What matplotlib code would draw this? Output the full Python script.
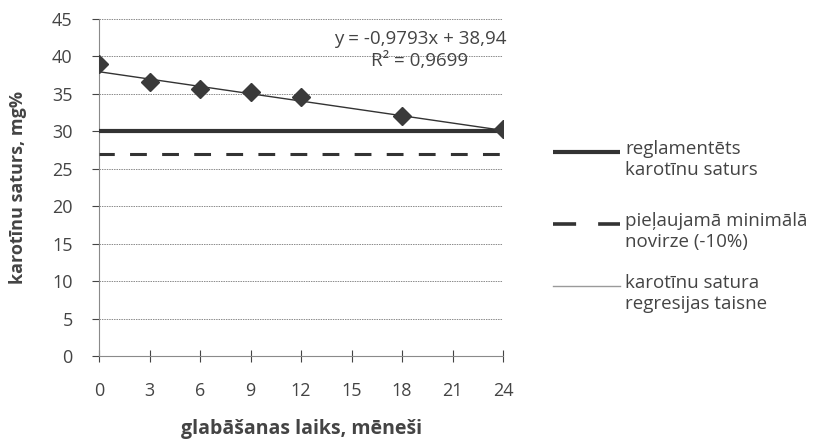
import matplotlib
matplotlib.use("Agg")
import matplotlib.pyplot as plt
from matplotlib.lines import Line2D

plt.rcParams['font.family'] = ['Open Sans', 'DejaVu Sans']

# storage months and measured carotene content, mg%
months = [0, 3, 6, 9, 12, 18, 24]
carotene = [39.0, 36.6, 35.7, 35.3, 34.6, 32.1, 30.3]

norm_level = 30.0        # regulated content
min_level = 27.0         # allowed minimum (-10%)

# trend from the spreadsheet: x is the category number (1 = 0 months, step 3 months)
slope = -0.9793
intercept = 38.94
r2 = 0.9699

x_ticks = [0, 3, 6, 9, 12, 15, 18, 21, 24]
y_ticks = [0, 5, 10, 15, 20, 25, 30, 35, 40, 45]

legend_labels = [
    "reglamentēts\nkarotīnu saturs",
    "pieļaujamā minimālā\nnovirze (-10%)",
    "karotīnu satura\nregresijas taisne",
]

line_color = '#333333'
grid_color = '#8a8a8a'
text_color = '#444444'

W, H = 838, 445
fig = plt.figure(figsize=(W / 100, H / 100), dpi=100)
fig.patch.set_facecolor('white')
ax = fig.add_axes([99 / W, 1 - 356 / H, (503 - 99) / W, (356 - 19) / H])

# grid
for yv in y_ticks[1:]:
    ax.axhline(yv, color=grid_color, lw=0.7, ls=(0, (1.5, 1)), zorder=1)

# reference levels
ax.plot([x_ticks[0], x_ticks[-1]], [norm_level, norm_level], color=line_color, lw=3.0,
        solid_capstyle='butt', zorder=3)
ax.plot([x_ticks[0], x_ticks[-1]], [min_level, min_level], color=line_color, lw=2.2,
        ls=(0.5, (5.5, 5.0)), zorder=3)

# trend line
trend_x = [x_ticks[0], x_ticks[-1]]
trend_y = [slope * (m / 3 + 1) + intercept for m in trend_x]
ax.plot(trend_x, trend_y, color=line_color, lw=1.0, zorder=4)

# measured points
ax.plot(months, carotene, ls='none', marker='D', ms=9, color='#3a3a3a', zorder=5)

ax.set_xlim(0, 24)
ax.set_ylim(0, 45)
ax.set_xticks(x_ticks)
ax.set_yticks(y_ticks)
ax.tick_params(axis='both', labelsize=13, colors=text_color, length=5, width=0.8)
ax.tick_params(axis='x', pad=14, direction='inout', length=9)
ax.tick_params(axis='y', pad=14)
for side in ['top', 'right']:
    ax.spines[side].set_visible(False)
for side in ['left', 'bottom']:
    ax.spines[side].set_color(grid_color)
    ax.spines[side].set_linewidth(0.8)
    ax.spines[side].set_linestyle((0, (1.5, 1)))

ax.set_xlabel("glabāšanas laiks, mēneši", fontsize=14, fontweight='bold', color=text_color, labelpad=14)
ax.set_ylabel("karotīnu saturs, mg%", fontsize=13, fontweight='bold', color=text_color, labelpad=18)

# regression equation
eq_text = "y = {}x + {}\nR² = {}".format(
    f"{slope:.4f}".replace('.', ','), f"{intercept:.2f}".replace('.', ','), f"{r2:.4f}".replace('.', ','))
fig.text(420 / W, 1 - 50 / H, eq_text, ha='center', va='center', fontsize=13.5,
         color=text_color, linespacing=1.25)

# legend drawn at the right side
styles = [
    dict(color=line_color, lw=3.0, solid_capstyle='butt'),
    dict(color=line_color, lw=2.6, ls=(0, (6.4, 6.1)), dash_capstyle='butt'),
    dict(color='#9a9a9a', lw=1.0),
]
rows = [152, 224, 286]
for label, style, yp in zip(legend_labels, styles, rows):
    fig.add_artist(Line2D([553 / W, 620 / W], [1 - yp / H, 1 - yp / H], transform=fig.transFigure, **style))
    fig.text(625 / W, 1 - (yp - 12) / H, label, ha='left', va='top', fontsize=13.5,
             color=text_color, linespacing=1.2)

fig.savefig("out.png", dpi=100, facecolor='white')
